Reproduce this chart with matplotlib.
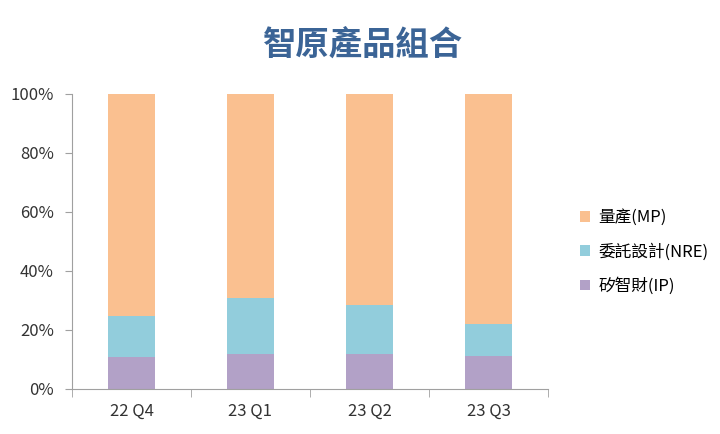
import matplotlib
matplotlib.use('Agg')
import matplotlib.pyplot as plt
import numpy as np

plt.rcParams['font.family'] = ['Noto Sans CJK TC', 'DejaVu Sans']

quarters = ['22 Q4', '23 Q1', '23 Q2', '23 Q3']
ip = [10.9, 11.8, 11.8, 11.1]
nre = [13.6, 19.0, 16.7, 10.9]
mp = [75.5, 69.2, 71.5, 78.0]

fig = plt.figure(figsize=(7.2, 4.34), dpi=100)
ax = fig.add_axes([72/720, 1 - 388.7/434, (548-72)/720, (388.7-94)/434])

x = np.arange(len(quarters))
w = 0.40
ax.bar(x, ip, w, color='#B2A1C7', label='矽智財(IP)')
ax.bar(x, nre, w, bottom=ip, color='#92CDDC', label='委託設計(NRE)')
ax.bar(x, mp, w, bottom=np.array(ip) + np.array(nre), color='#FAC090', label='量產(MP)')

ax.set_xlim(-0.5, len(quarters) - 0.5)
ax.set_ylim(0, 100)
ax.set_yticks(range(0, 101, 20))
ax.set_yticklabels([f'{v}%' for v in range(0, 101, 20)], fontsize=12, color='#333333')
ax.set_xticks(x)
ax.set_xticklabels(quarters, fontsize=12, color='#333333')
ax.tick_params(axis='x', length=0, pad=10)
ax.set_xticks(np.arange(-0.5, len(quarters)), minor=True)
ax.tick_params(axis='x', which='minor', length=6, color='#A0A0A0', direction='out')
ax.tick_params(axis='y', length=5, color='#A0A0A0', direction='out', pad=8)

for s in ['top', 'right']:
    ax.spines[s].set_visible(False)
for s in ['left', 'bottom']:
    ax.spines[s].set_color('#A0A0A0')

fig.text(0.505, 1 - 45/434, '智原產品組合', ha='center', va='center',
         fontsize=24, fontweight='bold', color='#3B6496')

h, l = ax.get_legend_handles_labels()
fig.legend(h[::-1], l[::-1], loc='center left', bbox_to_anchor=(565/720, 1 - 252/434),
           frameon=False, fontsize=12, handlelength=0.6, handleheight=0.6,
           labelspacing=1.0, handletextpad=0.5)

fig.savefig('out.png', dpi=100)
